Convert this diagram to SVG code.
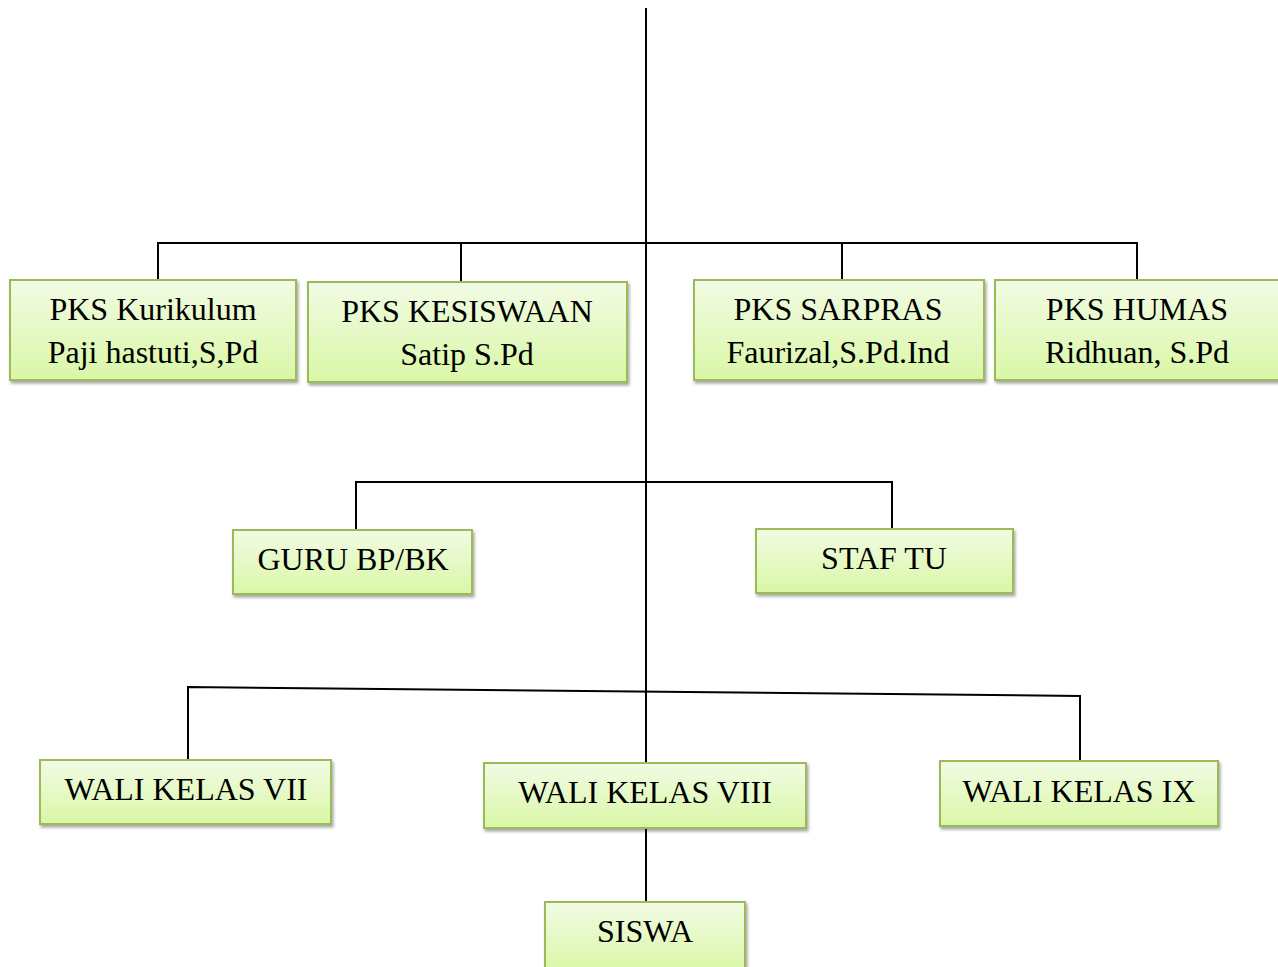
<svg xmlns="http://www.w3.org/2000/svg" width="1278" height="967" viewBox="0 0 1278 967">
<defs>
<linearGradient id="g" x1="0" y1="0" x2="0" y2="1">
<stop offset="0" stop-color="#f2fbe4"/>
<stop offset="1" stop-color="#d9f7a6"/>
</linearGradient>
<filter id="sh" x="-10%" y="-10%" width="120%" height="130%">
<feDropShadow dx="1.5" dy="2.5" stdDeviation="1.5" flood-color="#000" flood-opacity="0.35"/>
</filter>
</defs>
<style>
.box{fill:url(#g);stroke:#9bbb59;stroke-width:2;filter:url(#sh)}
.t{font-family:"Liberation Serif","Times New Roman",serif;font-size:32px;fill:#000;text-anchor:middle}
.c{fill:none;stroke:#000;stroke-width:2}
</style>
<rect width="1278" height="967" fill="#fff"/>
<g id="connectors">
<path class="c" d="M646 8V763"/>
<path class="c" d="M158 280V243H1137V280M461 243V282M842 243V280"/>
<path class="c" d="M356 530V482H892V529"/>
<path class="c" d="M188 760V687L1080 696V761"/>
<path class="c" d="M646 828V902"/>
</g>
<g id="pks-kurikulum"><rect class="box" x="10" y="280" width="286" height="100"/><text class="t" x="153" y="320">PKS Kurikulum</text><text class="t" x="153" y="363">Paji hastuti,S,Pd</text></g>
<g id="pks-kesiswaan"><rect class="box" x="308" y="282" width="319" height="100"/><text class="t" x="467" y="322">PKS KESISWAAN</text><text class="t" x="467" y="365">Satip S.Pd</text></g>
<g id="pks-sarpras"><rect class="box" x="694" y="280" width="290" height="100"/><text class="t" x="838" y="320">PKS SARPRAS</text><text class="t" x="838" y="363">Faurizal,S.Pd.Ind</text></g>
<g id="pks-humas"><rect class="box" x="995" y="280" width="284" height="100"/><text class="t" x="1137" y="320">PKS HUMAS</text><text class="t" x="1137" y="363">Ridhuan, S.Pd</text></g>
<g id="guru-bpbk"><rect class="box" x="233" y="530" width="239" height="64"/><text class="t" x="353" y="570">GURU BP/BK</text></g>
<g id="staf-tu"><rect class="box" x="756" y="529" width="257" height="64"/><text class="t" x="884" y="569">STAF TU</text></g>
<g id="wali-vii"><rect class="box" x="40" y="760" width="291" height="64"/><text class="t" x="186" y="800">WALI KELAS VII</text></g>
<g id="wali-viii"><rect class="box" x="484" y="763" width="322" height="65"/><text class="t" x="645" y="803">WALI KELAS VIII</text></g>
<g id="wali-ix"><rect class="box" x="940" y="761" width="278" height="65"/><text class="t" x="1079" y="802">WALI KELAS IX</text></g>
<g id="siswa"><rect class="box" x="545" y="902" width="200" height="70"/><text class="t" x="645" y="942">SISWA</text></g>
</svg>
